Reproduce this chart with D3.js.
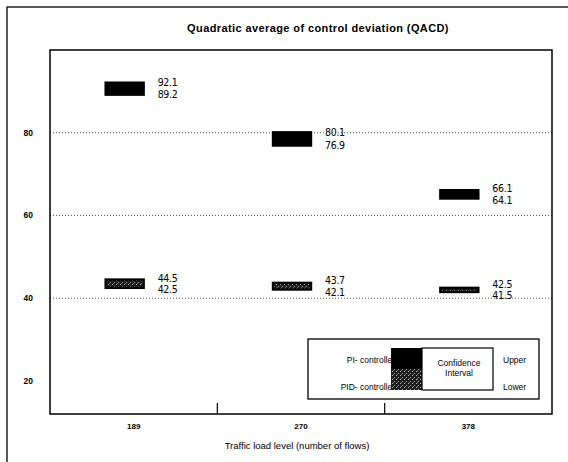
<!DOCTYPE html>
<html>
<head>
<meta charset="utf-8">
<script src="https://cdn.jsdelivr.net/npm/d3@7"></script>
<style>
  body { margin: 0; background: #fff; }
  svg { display: block; }
  text { font-family: "Liberation Sans", Arial, sans-serif; fill: #000; }
  .val { font-family: "Liberation Sans Narrow", "DejaVu Sans Condensed", sans-serif; font-size: 10.5px; letter-spacing: -0.3px; }
</style>
</head>
<body>
<script>
// values
var categories = ["189", "270", "378"];
var piUpper = [92.1, 80.1, 66.1];
var piLower = [89.2, 76.9, 64.1];
var pidUpper = [44.5, 43.7, 42.5];
var pidLower = [42.5, 42.1, 41.5];
var yTicks = [20, 40, 60, 80];
var gridValues = [40, 60, 80];

var W = 568, H = 462;
var plot = {l: 50, t: 50, r: 552, b: 414};
var barW = 38, barShift = -9;

var svg = d3.select("body").append("svg")
    .attr("width", W).attr("height", H);

// pattern for the PID bars
var pat = svg.append("defs").append("pattern")
    .attr("id", "dots").attr("width", 4).attr("height", 4)
    .attr("patternUnits", "userSpaceOnUse");
pat.append("rect").attr("width", 4).attr("height", 4).attr("fill", "#1c1c1c");
pat.append("rect").attr("x", 0).attr("y", 0).attr("width", 1).attr("height", 1).attr("fill", "#bbb");
pat.append("rect").attr("x", 2).attr("y", 2).attr("width", 1).attr("height", 1).attr("fill", "#999");
pat.append("rect").attr("x", 1).attr("y", 3).attr("width", 1).attr("height", 1).attr("fill", "#666");

// outer frame (cut off right/bottom)
svg.append("rect")
    .attr("x", 7).attr("y", 7).attr("width", 580).attr("height", 480)
    .attr("fill", "none").attr("stroke", "#000").attr("stroke-width", 1.3);

var x = d3.scaleBand().domain(categories).range([plot.l, plot.r]);
var y = d3.scaleLinear().domain([12, 100]).range([plot.b, plot.t]);

// gridlines
svg.selectAll("line.grid").data(gridValues).enter().append("line")
    .attr("class", "grid")
    .attr("x1", plot.l).attr("x2", plot.r)
    .attr("y1", function (d) { return y(d); }).attr("y2", function (d) { return y(d); })
    .attr("stroke", "#444").attr("stroke-width", 0.9).attr("stroke-dasharray", "1,2");

// y labels (no tick marks)
svg.selectAll("text.ytick").data(yTicks).enter().append("text")
    .attr("class", "ytick")
    .attr("x", 33).attr("y", function (d) { return y(d); })
    .attr("dy", "0.35em").attr("text-anchor", "end")
    .attr("font-size", 8.5).attr("font-weight", "bold")
    .text(function (d) { return d; });

// x axis: ticks between bands, pointing inward
var xAxis = d3.axisBottom(x).tickSize(0).tickPadding(9);
var gx = svg.append("g").attr("transform", "translate(0," + plot.b + ")").call(xAxis);
gx.select(".domain").remove();
gx.selectAll("text").attr("font-size", 8).attr("font-weight", "bold")
    .attr("font-family", "Liberation Sans, Arial, sans-serif");
svg.selectAll("line.sep").data(categories.slice(1)).enter().append("line")
    .attr("class", "sep")
    .attr("x1", function (d) { return x(d); }).attr("x2", function (d) { return x(d); })
    .attr("y1", plot.b - 11).attr("y2", plot.b)
    .attr("stroke", "#000").attr("stroke-width", 1.2);

// plot frame
svg.append("rect")
    .attr("x", plot.l).attr("y", plot.t)
    .attr("width", plot.r - plot.l).attr("height", plot.b - plot.t)
    .attr("fill", "none").attr("stroke", "#000").attr("stroke-width", 1.5);

// bars
function barX(i) { return x(categories[i]) + x.bandwidth() / 2 + barShift - barW / 2; }
function drawBars(up, lo, fill) {
    svg.append("g").selectAll("rect").data(up).enter().append("rect")
        .attr("x", function (d, i) { return barX(i); })
        .attr("y", function (d) { return y(d); })
        .attr("width", barW)
        .attr("height", function (d, i) { return y(lo[i]) - y(d); })
        .attr("fill", fill).attr("stroke", "#000").attr("stroke-width", 2.4);
    var g = svg.append("g");
    up.forEach(function (u, i) {
        var yu = y(u), yl = y(lo[i]), mid = (yu + yl) / 2;
        var tx = barX(i) + barW + 14;
        g.append("text").attr("class", "val").attr("x", tx)
            .attr("y", Math.min(yu, mid - 5.8)).attr("dy", "0.35em").text(u.toFixed(1));
        g.append("text").attr("class", "val").attr("x", tx)
            .attr("y", Math.max(yl, mid + 5.8)).attr("dy", "0.35em").text(lo[i].toFixed(1));
    });
}
drawBars(piUpper, piLower, "#000");
drawBars(pidUpper, pidLower, "url(#dots)");

// title + axis title
svg.append("text").attr("x", 318).attr("y", 32).attr("text-anchor", "middle")
    .attr("font-size", 11).attr("font-weight", "bold").attr("letter-spacing", 0.4)
    .text("Quadratic average of control deviation (QACD)");
svg.append("text").attr("x", 297).attr("y", 449).attr("text-anchor", "middle")
    .attr("font-size", 9.5)
    .text("Traffic load level (number of flows)");

// legend
var lg = svg.append("g").attr("transform", "translate(308,339)");
lg.append("rect").attr("width", 231).attr("height", 60)
    .attr("fill", "#fff").attr("stroke", "#000").attr("stroke-width", 1.3);
var lt = [
    ["PI- controller", 87, 21, "end"],
    ["PID- controller", 87, 48, "end"],
    ["Confidence", 151, 24, "middle"],
    ["Interval", 151, 34, "middle"],
    ["Upper", 195, 21, "start"],
    ["Lower", 195, 48, "start"]
];
lg.selectAll("text").data(lt).enter().append("text")
    .attr("x", function (d) { return d[1]; }).attr("y", function (d) { return d[2]; })
    .attr("dy", "0.35em").attr("text-anchor", function (d) { return d[3]; })
    .attr("font-size", 8.5)
    .text(function (d) { return d[0]; });
// swatches drawn over the end of the labels, as in the original
lg.append("rect").attr("x", 83).attr("y", 9).attr("width", 31).attr("height", 21).attr("fill", "#000");
lg.append("rect").attr("x", 83).attr("y", 30).attr("width", 31).attr("height", 21).attr("fill", "url(#dots)");
lg.append("rect").attr("x", 114).attr("y", 9).attr("width", 71).attr("height", 42)
    .attr("fill", "none").attr("stroke", "#000").attr("stroke-width", 1.2);
</script>
</body>
</html>
